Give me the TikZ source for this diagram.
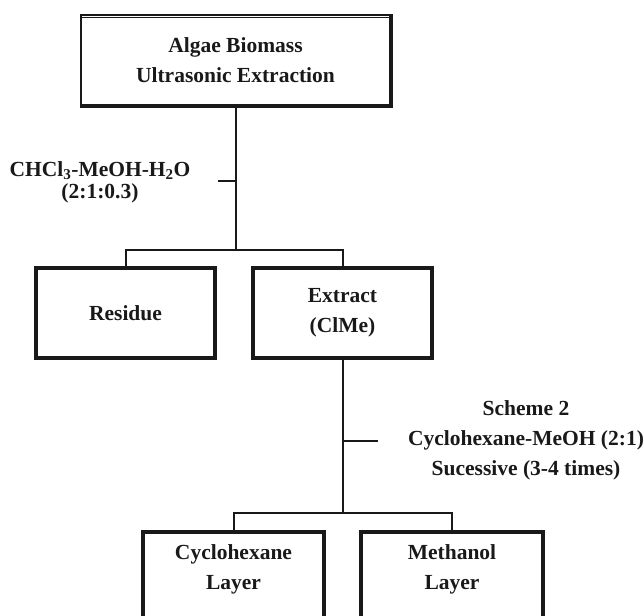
\documentclass[tikz,border=0pt]{standalone}
\usepackage{fontspec}
\setmainfont{Liberation Serif}
\begin{document}
\begin{tikzpicture}[x=1pt,y=-1pt,
  every node/.style={font=\fontsize{21.5}{30}\selectfont\bfseries, align=center, text=black!90},
  boxnode/.style={draw=black!90, line width=4pt, minimum width=#1, inner sep=0pt},
  link/.style={draw=black!90, line width=2pt},
  txt/.style={inner sep=0pt}]
\useasboundingbox (0,0) rectangle (644,615);
\clip (0,0) rectangle (644,615);
% top box
\node[draw=black!90, line width=1.6pt, minimum width=309, minimum height=90, inner sep=0pt] (top) at (235.5,60) {Algae Biomass\\Ultrasonic Extraction};
\draw[black!90, line width=4pt] (top.north east) -- (top.south east) -- (top.south west);
\draw[black!90, line width=1.2pt] ([yshift=-3.5pt]top.north west) -- ([yshift=-3.5pt]top.north east);
% second level
\node[boxnode=179, minimum height=90] (res) at (125.5,313) {Residue};
\node[boxnode=179, minimum height=90] (ext) at (342.5,313) {Extract\\(ClMe)};
% third level (cut by the page edge)
\node[boxnode=181, minimum height=100] (cyc) at (233.5,582) {};
\node[boxnode=182, minimum height=100] (met) at (452,582) {};
\node[txt] (cyct) at (233.5,569) {Cyclohexane\\Layer};
\node[txt] (mett) at (452,569) {Methanol\\Layer};
% labels
\node[txt, font=\fontsize{21.5}{22}\selectfont\bfseries] (sol) at (100,182) {CHCl\textsubscript{3}-MeOH-H\textsubscript{2}O\\(2:1:0.3)};
\node[txt] (sch) at (526,440) {Scheme 2\\Cyclohexane-MeOH (2:1)\\Sucessive (3-4 times)};
% connectors
\coordinate (j1) at (top.south |- 0,250);
\coordinate (t1) at (top.south |- 0,181);
\coordinate (t1e) at (218,181);
\draw[link] (top.south) -- (j1);
\draw[link] (j1) -| (res.north);
\draw[link] (j1) -| (ext.north);
\draw[link] (t1) -- (t1e);
\coordinate (j2) at (ext.south |- 0,513);
\coordinate (t2) at (ext.south |- 0,441);
\coordinate (t2e) at (378,441);
\draw[link] (ext.south) -- (j2);
\draw[link] (j2) -| (cyc.north);
\draw[link] (j2) -| (met.north);
\draw[link] (t2) -- (t2e);
\end{tikzpicture}
\end{document}
